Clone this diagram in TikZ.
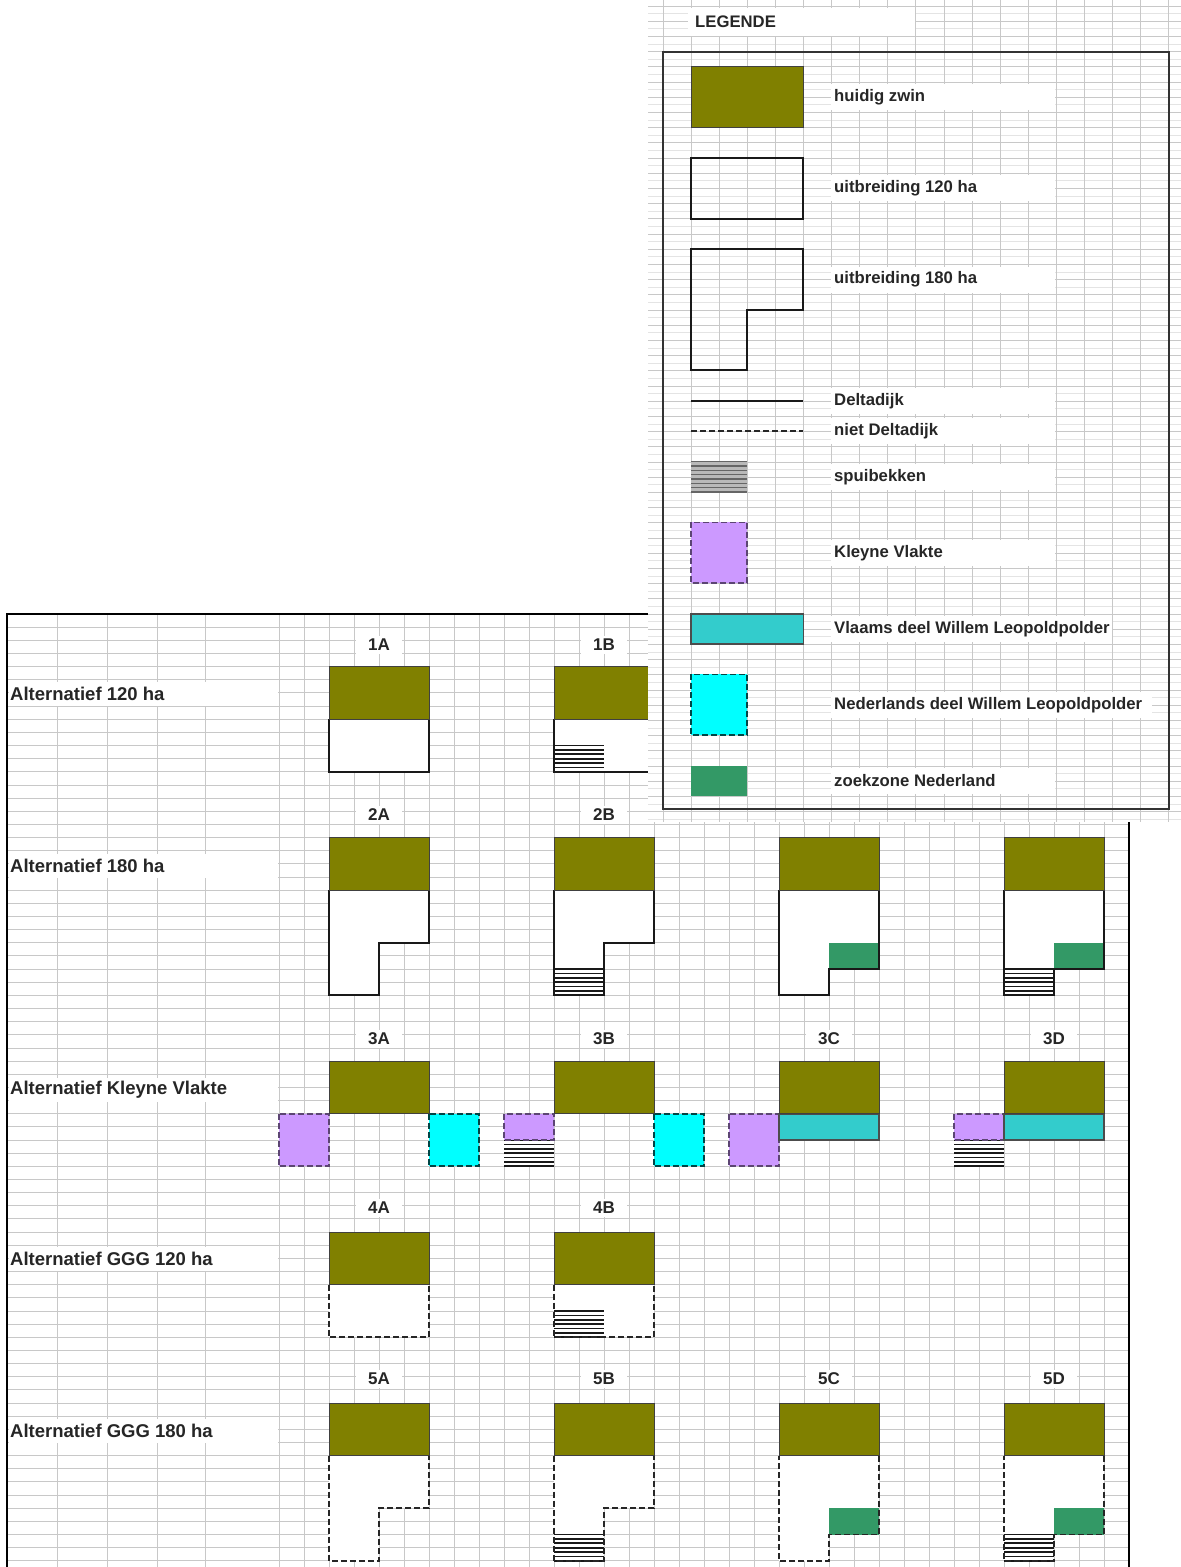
\documentclass[tikz,border=0pt]{standalone}
\usepackage{fontspec}
\setmainfont{Liberation Sans}
\definecolor{olivez}{RGB}{128,128,0}
\definecolor{lav}{RGB}{204,153,255}
\definecolor{aquaz}{RGB}{0,255,255}
\definecolor{tealv}{RGB}{51,204,204}
\definecolor{seag}{RGB}{51,153,102}
\definecolor{gridc}{RGB}{200,200,200}
\definecolor{gridh}{RGB}{228,228,228}
\tikzset{
  zwin/.style={fill=olivez, draw=black!75, line width=1pt},
  dike/.style={draw=black!90, line width=2pt},
  ndike/.style={draw=black!85, line width=1.9pt, dash pattern=on 6pt off 3pt},
  kv/.style={fill=lav, draw=lav!45!black, line width=1.8pt, dash pattern=on 6pt off 3pt},
  nlz/.style={fill=aquaz, draw=teal!55!black, line width=1.8pt, dash pattern=on 6pt off 3pt},
  vl/.style={fill=tealv, draw=black!70, line width=1.8pt},
  zz/.style={fill=seag},
  gridln/.style={draw=gridc, line width=0.9pt},
  gridhl/.style={draw=gridh, line width=0.7pt},
  collab/.style={font=\bfseries\fontsize{17}{17}\selectfont, text=black!85, fill=white, minimum width=46pt, minimum height=18pt, inner sep=1pt},
  rowlab/.style={font=\bfseries\fontsize{18.5}{18.5}\selectfont, text=black!85, anchor=west, inner sep=0pt},
  leglab/.style={font=\bfseries\fontsize{16.7}{16.7}\selectfont, text=black!85, anchor=west, inner sep=0pt},
}
\newcommand{\spuiA}[4]{%
  \fill[white] (#1,#2) rectangle (#3,#4);
  \foreach \j in {0,...,6} \draw[black!90, line width=1.7pt] (#1,{#2+(#4-#2)*\j/6}) -- (#3,{#2+(#4-#2)*\j/6});
}
\newcommand{\spuiL}[4]{%
  \fill[gray!55] (#1,#2) rectangle (#3,#4);
  \foreach \j in {0,...,7} \draw[black!60, line width=1.4pt] (#1,{#2+(#4-#2)*\j/7}) -- (#3,{#2+(#4-#2)*\j/7});
}
\newcommand{\rowcell}[2]{%
  \fill[white] (9,{#1-12}) rectangle (278,{#1+12});
  \node[rowlab] at (10,#1) {#2};
}
\newcommand{\legcell}[3]{%
  \fill[white] (831,{#1-13}) rectangle (#3,{#1+13});
  \node[leglab] at (834,#1) {#2};
}
\begin{document}
\begin{tikzpicture}[x=1pt,y=-1pt]
\useasboundingbox (0,0) rectangle (1181,1567);
\fill[white] (0,0) rectangle (1181,1567);
% ---------------- lower panel grid ----------------
\foreach \k in {1,...,72} \draw[gridln] (7,{614+13.15*\k}) -- (1129,{614+13.15*\k});
\foreach \x in {57,107,157,205} \draw[gridln] (\x,614) -- (\x,1567);
\foreach \k in {0,...,33} \draw[gridln] ({279+25*\k},614) -- ({279+25*\k},1567);
\draw[black, line width=2pt] (7,1567) -- (7,614) -- (1129,614) -- (1129,1567);
% ---------------- row labels ----------------
\rowcell{694}{Alternatief 120 ha}
\rowcell{866}{Alternatief 180 ha}
\rowcell{1090}{Alternatief Kleyne Vlakte}
\rowcell{1259}{Alternatief GGG 120 ha}
\rowcell{1431}{Alternatief GGG 180 ha}
% ---------------- column labels ----------------
\node[collab] (l1A) at (379,645) {1A};
\node[collab] (l1B) at (604,645) {1B};
\node[collab] (l2A) at (379,815) {2A};
\node[collab] (l2B) at (604,815) {2B};
\node[collab] (l3A) at (379,1039) {3A};
\node[collab] (l3B) at (604,1039) {3B};
\node[collab] (l3C) at (829,1039) {3C};
\node[collab] (l3D) at (1054,1039) {3D};
\node[collab] (l4A) at (379,1208) {4A};
\node[collab] (l4B) at (604,1208) {4B};
\node[collab] (l5A) at (379,1379) {5A};
\node[collab] (l5B) at (604,1379) {5B};
\node[collab] (l5C) at (829,1379) {5C};
\node[collab] (l5D) at (1054,1379) {5D};
% ---------------- row 1 ----------------
\fill[white] (329,719.2) rectangle (429,771.8);
\draw[dike] (329,719.2) -- (329,771.8) -- (429,771.8) -- (429,719.2);
\draw[zwin] (329,666.6) rectangle (429,719.2);
\fill[white] (554,719.2) rectangle (654,771.8);
\spuiA{554}{745.5}{604}{771.8}
\draw[dike] (554,719.2) -- (554,771.8) -- (654,771.8) -- (654,719.2);
\draw[zwin] (554,666.6) rectangle (654,719.2);
% ---------------- row 2 ----------------
\fill[white] (329,890.15) -- (329,995.35) -- (379,995.35) -- (379,942.75) -- (429,942.75) -- (429,890.15) -- cycle;
\draw[dike] (329,890.15) -- (329,995.35) -- (379,995.35) -- (379,942.75) -- (429,942.75) -- (429,890.15);
\draw[zwin] (329,837.55) rectangle (429,890.15);
\fill[white] (554,890.15) -- (554,995.35) -- (604,995.35) -- (604,942.75) -- (654,942.75) -- (654,890.15) -- cycle;
\spuiA{554}{969.05}{604}{995.35}
\draw[dike] (554,890.15) -- (554,995.35) -- (604,995.35) -- (604,942.75) -- (654,942.75) -- (654,890.15);
\draw[zwin] (554,837.55) rectangle (654,890.15);
\fill[white] (779,890.15) -- (779,995.35) -- (829,995.35) -- (829,969.05) -- (879,969.05) -- (879,890.15) -- cycle;
\fill[zz] (829,942.75) rectangle (879,969.05);
\draw[dike] (879,890.15) -- (879,969.05) -- (829,969.05) -- (829,995.35) -- (779,995.35) -- (779,890.15);
\draw[zwin] (779,837.55) rectangle (879,890.15);
\fill[white] (1004,890.15) -- (1004,995.35) -- (1054,995.35) -- (1054,969.05) -- (1104,969.05) -- (1104,890.15) -- cycle;
\fill[zz] (1054,942.75) rectangle (1104,969.05);
\spuiA{1004}{969.05}{1054}{995.35}
\draw[dike] (1104,890.15) -- (1104,969.05) -- (1054,969.05) -- (1054,995.35) -- (1004,995.35) -- (1004,890.15);
\draw[zwin] (1004,837.55) rectangle (1104,890.15);
% ---------------- row 3 ----------------
\draw[kv] (279,1113.7) rectangle (329,1166.3);
\draw[nlz] (429,1113.7) rectangle (479,1166.3);
\draw[zwin] (329,1061.1) rectangle (429,1113.7);
\spuiA{504}{1140}{554}{1166.3}
\draw[kv] (504,1113.7) rectangle (554,1140);
\draw[nlz] (654,1113.7) rectangle (704,1166.3);
\draw[zwin] (554,1061.1) rectangle (654,1113.7);
\draw[kv] (729,1113.7) rectangle (779,1166.3);
\draw[vl] (779,1113.7) rectangle (879,1140);
\draw[zwin] (779,1061.1) rectangle (879,1113.7);
\spuiA{954}{1140}{1004}{1166.3}
\draw[kv] (954,1113.7) rectangle (1004,1140);
\draw[vl] (1004,1113.7) rectangle (1104,1140);
\draw[zwin] (1004,1061.1) rectangle (1104,1113.7);
% ---------------- row 4 ----------------
\fill[white] (329,1284.65) rectangle (429,1337.25);
\draw[ndike] (329,1284.65) -- (329,1337.25) -- (429,1337.25) -- (429,1284.65);
\draw[zwin] (329,1232.05) rectangle (429,1284.65);
\fill[white] (554,1284.65) rectangle (654,1337.25);
\spuiA{554}{1310.95}{604}{1337.25}
\draw[ndike] (554,1284.65) -- (554,1337.25) -- (654,1337.25) -- (654,1284.65);
\draw[zwin] (554,1232.05) rectangle (654,1284.65);
% ---------------- row 5 ----------------
\fill[white] (329,1455.6) -- (329,1560.8) -- (379,1560.8) -- (379,1508.2) -- (429,1508.2) -- (429,1455.6) -- cycle;
\draw[ndike] (329,1455.6) -- (329,1560.8) -- (379,1560.8) -- (379,1508.2) -- (429,1508.2) -- (429,1455.6);
\draw[zwin] (329,1403) rectangle (429,1455.6);
\fill[white] (554,1455.6) -- (554,1560.8) -- (604,1560.8) -- (604,1508.2) -- (654,1508.2) -- (654,1455.6) -- cycle;
\spuiA{554}{1534.5}{604}{1560.8}
\draw[ndike] (554,1455.6) -- (554,1560.8) -- (604,1560.8) -- (604,1508.2) -- (654,1508.2) -- (654,1455.6);
\draw[zwin] (554,1403) rectangle (654,1455.6);
\fill[white] (779,1455.6) -- (779,1560.8) -- (829,1560.8) -- (829,1534.5) -- (879,1534.5) -- (879,1455.6) -- cycle;
\fill[zz] (829,1508.2) rectangle (879,1534.5);
\draw[ndike] (879,1455.6) -- (879,1534.5) -- (829,1534.5) -- (829,1560.8) -- (779,1560.8) -- (779,1455.6);
\draw[zwin] (779,1403) rectangle (879,1455.6);
\fill[white] (1004,1455.6) -- (1004,1560.8) -- (1054,1560.8) -- (1054,1534.5) -- (1104,1534.5) -- (1104,1455.6) -- cycle;
\fill[zz] (1054,1508.2) rectangle (1104,1534.5);
\spuiA{1004}{1534.5}{1054}{1560.8}
\draw[ndike] (1104,1455.6) -- (1104,1534.5) -- (1054,1534.5) -- (1054,1560.8) -- (1004,1560.8) -- (1004,1455.6);
\draw[zwin] (1004,1403) rectangle (1104,1455.6);
% ---------------- legend panel ----------------
\fill[white] (648,0) rectangle (1181,822);
\foreach \k in {0,...,53} \draw[gridhl] (648,{13.6+15.2*\k}) -- (1181,{13.6+15.2*\k});
\foreach \k in {0,...,53} \draw[gridln] (648,{6+15.2*\k}) -- (1181,{6+15.2*\k});
\foreach \k in {0,...,18} \draw[gridln] ({663+28.1*\k},0) -- ({663+28.1*\k},822);
\fill[white] (688,8) rectangle (915,36);
\node[leglab] (leg) at (695,22) {LEGENDE};
\draw[black!80, line width=1.8pt] (663,51.6) rectangle (1169,809);
\draw[zwin] (691,66.8) rectangle (803.4,127.6);
\draw[dike] (691,158) rectangle (803.4,218.8);
\draw[dike] (691,249.2) -- (803.4,249.2) -- (803.4,310) -- (747.2,310) -- (747.2,370.4) -- (691,370.4) -- cycle;
\draw[dike, line width=1.6pt] (691,400.8) -- (803.4,400.8);
\draw[ndike, line width=1.6pt] (691,431.2) -- (803.4,431.2);
\spuiL{691}{461.6}{747.2}{492}
\draw[kv] (691,522.4) rectangle (747.2,583.2);
\draw[vl] (691,613.6) rectangle (803.4,644);
\draw[nlz] (691,674.4) rectangle (747.2,735.2);
\fill[zz] (691,765.6) rectangle (747.2,796);
\legcell{97.2}{huidig zwin}{1055}
\legcell{188.4}{uitbreiding 120 ha}{1055}
\legcell{279.6}{uitbreiding 180 ha}{1055}
\legcell{400.8}{Deltadijk}{1055}
\legcell{431.2}{niet Deltadijk}{1055}
\legcell{476.8}{spuibekken}{1055}
\legcell{552.8}{Kleyne Vlakte}{1055}
\legcell{628.8}{Vlaams deel Willem Leopoldpolder}{1112}
\legcell{704.8}{Nederlands deel Willem Leopoldpolder}{1152}
\legcell{780.8}{zoekzone Nederland}{1055}
\end{tikzpicture}
\end{document}
